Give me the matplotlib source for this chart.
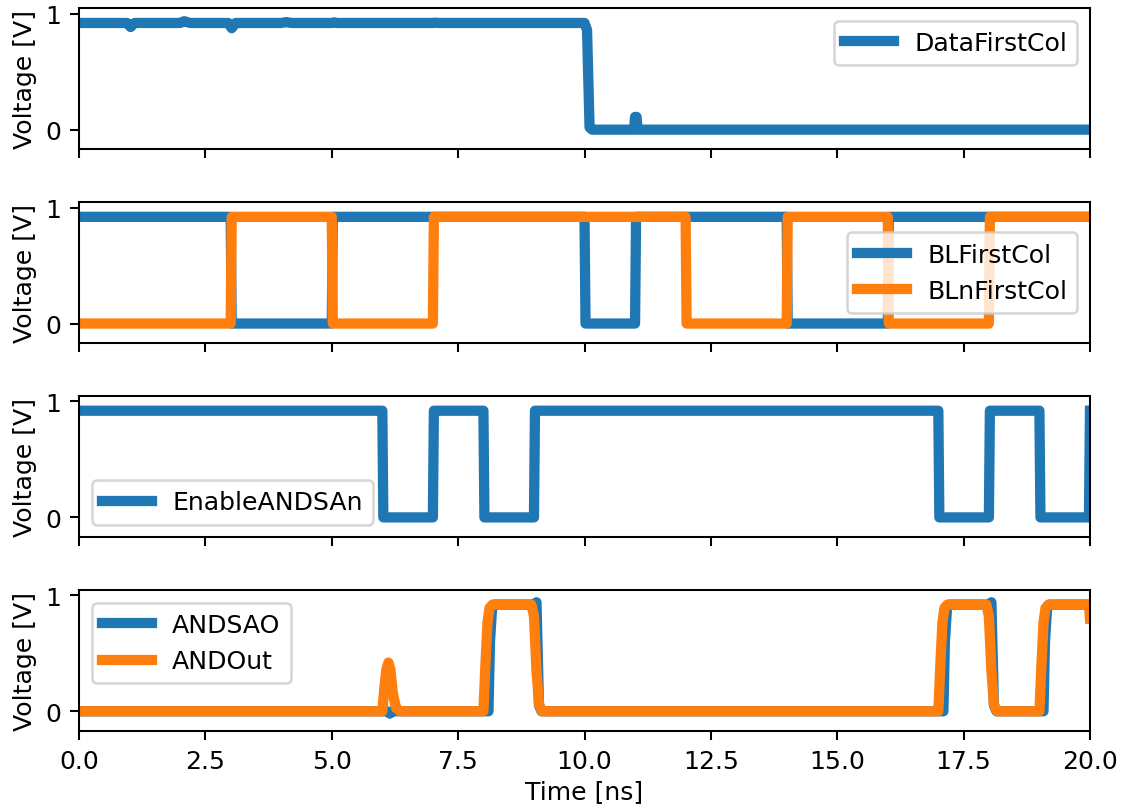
import matplotlib
matplotlib.use("Agg")
import matplotlib.pyplot as plt

H = 0.92  # logic-high level [V]

# DataFirstCol: storage node of the first column
data_t = [0.0, 0.95, 1.02, 1.1, 2.0, 2.08, 2.2, 2.95, 3.02, 3.1, 4.0, 4.1, 4.2,
          5.0, 5.05, 5.1, 7.0, 7.05, 7.1, 10.0, 10.05, 10.1, 10.15,
          10.98, 11.0, 11.03, 11.05, 20.0]
data_v = [H, H, 0.885, H, H, 0.935, H, H, 0.875, H, H, 0.928, H,
          H, 0.925, H, H, 0.923, H, H, 0.86, 0.02, 0.0,
          0.0, 0.11, 0.11, 0.0, 0.0]

# Bit lines of the first column
bl_t = [0.0, 3.0, 3.02, 5.0, 5.02, 10.0, 10.02, 11.0, 11.02,
        14.0, 14.02, 16.0, 16.02, 20.0]
bl_v = [H, H, 0.0, 0.0, H, H, 0.0, 0.0, H, H, 0.0, 0.0, H, H]
bln_t = [0.0, 3.0, 3.02, 5.0, 5.02, 7.0, 7.02, 12.0, 12.02,
         14.0, 14.02, 16.0, 16.02, 18.0, 18.02, 20.0]
bln_v = [0.0, 0.0, H, H, 0.0, 0.0, H, H, 0.0, 0.0, H, H, 0.0, 0.0, H, H]

# Sense-amplifier enable (active low)
en_t = [0.0, 6.0, 6.02, 7.0, 7.02, 8.0, 8.02, 9.0, 9.02, 17.0, 17.02,
        18.0, 18.02, 19.0, 19.02, 19.98, 20.0]
en_v = [H, H, 0.0, 0.0, H, H, 0.0, 0.0, H, H, 0.0, 0.0, H, H, 0.0, 0.0, H]

# AND sense-amp output and final AND output
sao_t = [0.0, 6.1, 6.15, 6.2, 8.1, 8.13, 8.17, 8.22, 9.0, 9.05, 9.1, 9.15,
         17.1, 17.13, 17.17, 17.22, 18.0, 18.05, 18.1, 18.15,
         19.08, 19.11, 19.15, 19.2, 20.0]
sao_v = [0.0, 0.0, -0.02, 0.0, 0.0, 0.6, 0.88, H, H, 0.94, 0.05, 0.0,
         0.0, 0.6, 0.88, H, H, 0.94, 0.05, 0.0,
         0.0, 0.6, 0.88, H, H]
out_t = [0.0, 6.0, 6.04, 6.08, 6.12, 6.16, 6.21, 6.27, 6.35,
         8.0, 8.04, 8.08, 8.12, 8.18, 8.95, 9.0, 9.05, 9.1, 9.16,
         17.0, 17.04, 17.08, 17.12, 17.18, 17.95, 18.0, 18.05, 18.1, 18.16,
         19.0, 19.04, 19.08, 19.12, 19.18, 19.98, 20.0]
out_v = [0.0, 0.0, 0.2, 0.36, 0.42, 0.36, 0.15, 0.03, 0.0,
         0.0, 0.4, 0.76, 0.89, H, H, 0.82, 0.35, 0.06, 0.0,
         0.0, 0.4, 0.76, 0.89, H, H, 0.82, 0.35, 0.06, 0.0,
         0.0, 0.4, 0.76, 0.89, H, H, 0.8]

x_ticks = [0.0, 2.5, 5.0, 7.5, 10.0, 12.5, 15.0, 17.5, 20.0]

plt.rcParams["font.size"] = 9.8

DPI = 185
fig, axes = plt.subplots(4, 1, sharex=True, figsize=(1126 / DPI, 810 / DPI), dpi=DPI)
fig.subplots_adjust(left=0.0702, right=0.968, top=0.9883, bottom=0.0963, hspace=0.376)

lw = 4
axes[0].plot(data_t, data_v, lw=lw, label="DataFirstCol")
axes[0].legend(loc="upper right")

axes[1].plot(bl_t, bl_v, lw=lw, label="BLFirstCol")
axes[1].plot(bln_t, bln_v, lw=lw, label="BLnFirstCol")
axes[1].legend(loc="center right")

axes[2].plot(en_t, en_v, lw=lw, label="EnableANDSAn")
axes[2].legend(loc="lower left")

axes[3].plot(sao_t, sao_v, lw=lw, label="ANDSAO")
axes[3].plot(out_t, out_v, lw=lw, label="ANDOut")
axes[3].legend(loc="upper left")

for ax in axes:
    ax.set_ylim(-0.17, 1.045)
    ax.set_yticks([0, 1])
    ax.set_ylabel("Voltage [V]", labelpad=3)
    ax.set_xlim(0, 20)
    ax.set_xticks(x_ticks)

axes[3].set_xlabel("Time [ns]", labelpad=2.5)

fig.savefig("out.png", dpi=DPI)
